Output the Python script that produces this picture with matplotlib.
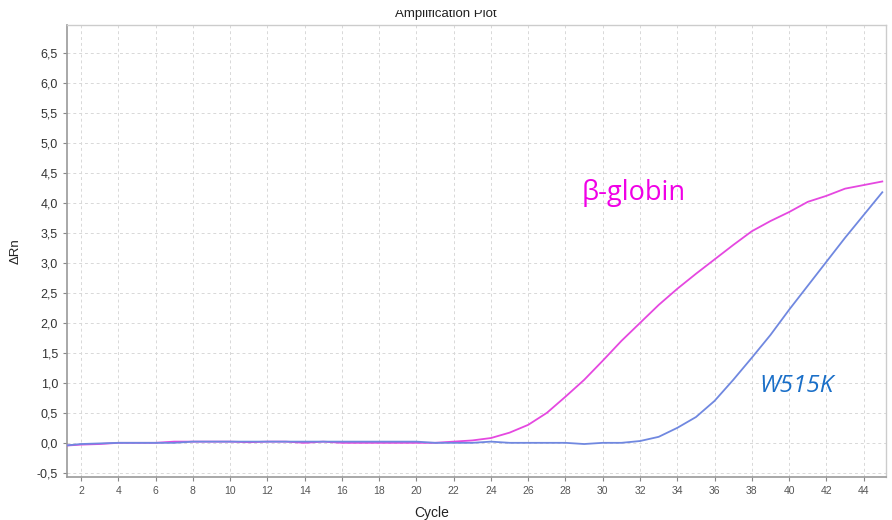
import matplotlib
matplotlib.use("Agg")
import matplotlib.pyplot as plt
from matplotlib.patches import Rectangle
from matplotlib.ticker import FuncFormatter

# cycles and delta Rn values
cycles = list(range(1, 46))
beta_globin = [-0.05, -0.03, -0.02, 0.0, 0.0, 0.0, 0.02, 0.02, 0.02, 0.02,
               0.01, 0.02, 0.02, 0.0, 0.02, 0.0, 0.0, 0.0, 0.0, 0.0,
               0.0, 0.02, 0.04, 0.08, 0.17, 0.30, 0.50, 0.77, 1.05, 1.37,
               1.70, 2.00, 2.30, 2.57, 2.82, 3.06, 3.30, 3.53, 3.70, 3.85,
               4.02, 4.12, 4.24, 4.30, 4.36]
w515k = [-0.05, -0.02, -0.01, 0.0, 0.0, 0.0, 0.0, 0.02, 0.02, 0.02,
         0.02, 0.02, 0.02, 0.02, 0.02, 0.02, 0.02, 0.02, 0.02, 0.02,
         0.0, 0.0, 0.0, 0.02, 0.0, 0.0, 0.0, 0.0, -0.02, 0.0,
         0.0, 0.03, 0.10, 0.25, 0.43, 0.70, 1.05, 1.42, 1.80, 2.22,
         2.62, 3.02, 3.42, 3.80, 4.18]

x_ticks = list(range(2, 45, 2))
y_ticks = [-0.5, 0.0, 0.5, 1.0, 1.5, 2.0, 2.5, 3.0, 3.5, 4.0, 4.5, 5.0, 5.5, 6.0, 6.5]

plt.rcParams['font.family'] = ['Liberation Sans', 'DejaVu Sans']

fig = plt.figure(figsize=(8.92, 5.2), dpi=100)
ax = fig.add_axes([0.0751, 0.0827, 0.9182, 0.8692])

ax.plot(cycles, beta_globin, color='#e548e0', lw=1.3, zorder=3)
ax.plot(cycles, w515k, color='#7088e0', lw=1.3, zorder=3)

ax.set_xlim(1.25, 45.2)
ax.set_ylim(-0.57, 6.97)
ax.set_xticks(x_ticks)
ax.set_yticks(y_ticks)
ax.yaxis.set_major_formatter(FuncFormatter(lambda v, p: "{:.1f}".format(v).replace(".", ",")))
ax.tick_params(axis='y', labelsize=9, colors='#888888', labelcolor='#333333', length=3)
ax.tick_params(axis='x', labelsize=7.5, colors='#888888', labelcolor='#555555', length=3)

ax.grid(True, color='#d8d8d8', linestyle=(0, (3, 3)), lw=0.7)
for s in ['left', 'bottom']:
    ax.spines[s].set_color('#999999')
    ax.spines[s].set_linewidth(1.2)
for s in ['top', 'right']:
    ax.spines[s].set_color('#cccccc')
    ax.spines[s].set_linewidth(1.0)

ax.set_xlabel('Cycle', fontsize=10, color='#222222', labelpad=2)
ax.xaxis.set_label_coords(0.445, -0.065)
ax.set_ylabel('ΔRn', fontsize=9.5, color='#222222')
ax.yaxis.set_label_coords(-0.055, 0.5)

ax.text(28.85, 4.17, 'β-globin', color='#f000e6', fontsize=19.5,
        family=['Open Sans', 'DejaVu Sans'], va='center', ha='left')
ax.text(38.4, 0.95, 'W515K', color='#1a6fc8', fontsize=17.5, style='italic',
        family=['Open Sans', 'DejaVu Sans'], va='center', ha='left')

# title is cut off at the top of the original image
fig.text(0.5, 1 - 17 / 520, 'Amplification Plot', fontsize=9.5, color='#222222',
         ha='center', va='baseline')
fig.patches.append(Rectangle((0, 1 - 10 / 520), 1, 10 / 520, transform=fig.transFigure,
                             facecolor='white', edgecolor='none', zorder=10))

plt.savefig('out.png', dpi=100)
